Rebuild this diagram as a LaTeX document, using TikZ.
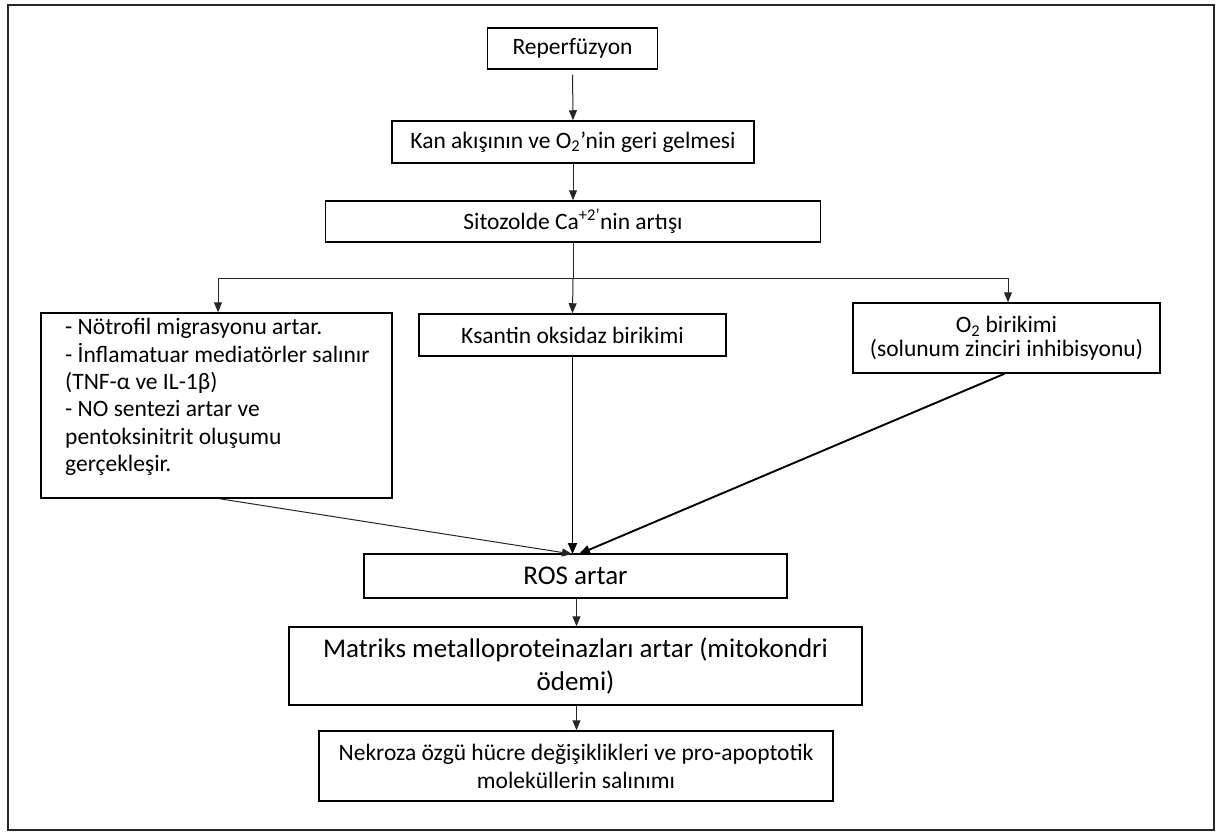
\documentclass[tikz,border=0pt]{standalone}
\usepackage{fontspec}
\setmainfont{Carlito}
\usetikzlibrary{arrows.meta}
\begin{document}
\begin{tikzpicture}[x=1pt,y=-1pt,
  box/.style={draw=black, line width=1.5pt, rectangle, inner sep=0pt, align=center,
    font=\fontsize{23.5}{28}\selectfont},
  bigtxt/.style={font=\fontsize{27}{32.7}\selectfont},
  conn/.style={draw=black!85, line width=1pt, -{Triangle[length=10pt,width=8pt]}},
  connthick/.style={draw=black, line width=1.9pt, -{Triangle[length=11pt,width=9pt]}},
  plain/.style={draw=black!85, line width=1pt},
  frame/.style={draw=black!85, line width=2.6pt}
]
\useasboundingbox (0,0) rectangle (1217,832);
\draw[frame] (8,5) rectangle (1214,830);

\node[box, minimum width=170pt, minimum height=41pt] (rep) at (572.5,48.5) {Reperfüzyon};
\node[box, minimum width=362pt, minimum height=42pt] (kan) at (573,142) {Kan akışının ve O\textsubscript{2}’nin geri gelmesi};
\node[box, minimum width=495pt, minimum height=41pt] (sito) at (573,221.5) {Sitozolde Ca\textsuperscript{+2’}nin artışı};

\node[box, minimum width=351pt, minimum height=185pt] (left) at (216.5,405.5) {};
\node[anchor=west, align=left, inner sep=0pt, font=\fontsize{23.5}{27.4}\selectfont] (lefttxt) at (65,397)
  {- Nötrofil migrasyonu artar.\\
   - İnflamatuar mediatörler salınır\\
   (TNF-α ve IL-1β)\\
   - NO sentezi artar ve\\
   pentoksinitrit oluşumu\\
   gerçekleşir.};
\node[box, minimum width=307pt, minimum height=42pt] (ksan) at (572.5,335) {Ksantin oksidaz birikimi};
\node[box, minimum width=307pt, minimum height=70pt, font=\fontsize{23.5}{24}\selectfont] (o2) at (1006.5,338) {O\textsubscript{2} birikimi\\(solunum zinciri inhibisyonu)};

\node[box, bigtxt, minimum width=423pt, minimum height=44pt] (ros) at (575.5,576) {ROS artar};
\node[box, bigtxt, minimum width=573pt, minimum height=78pt] (mat) at (575.5,666) {Matriks metalloproteinazları artar (mitokondri\\ödemi)};
\node[box, minimum width=514pt, minimum height=70pt] (nek) at (576,766) {Nekroza özgü hücre değişiklikleri ve pro-apoptotik\\moleküllerin salınımı};

\coordinate (jc) at (573,278);
\coordinate (jl) at (218,278);
\coordinate (jr) at (1008,278);
\coordinate (rinl) at (572,554);
\coordinate (rinr) at (579,554);

\draw[conn, shorten <=5pt] (rep.south) -- (kan.north);
\draw[conn] (kan.south) -- (sito.north);
\draw[plain] (sito.south) -- (jc);
\draw[plain] (jl) -- (jr);
\draw[conn] (jl) -- (jl |- left.north);
\draw[conn] (jc) -- (ksan.north);
\draw[conn] (jr) -- (jr |- o2.north);

\draw[conn] ([xshift=3pt]left.south) -- (rinl);
\draw[connthick] (ksan.south) -- (ksan.south |- rinl);
\draw[connthick] ([xshift=-2pt]o2.south) -- (rinr);

\draw[conn] ([xshift=1pt]ros.south) -- ([xshift=1pt]mat.north);
\draw[conn] ([xshift=1pt]mat.south) -- ([xshift=0.5pt]nek.north);
\end{tikzpicture}
\end{document}
